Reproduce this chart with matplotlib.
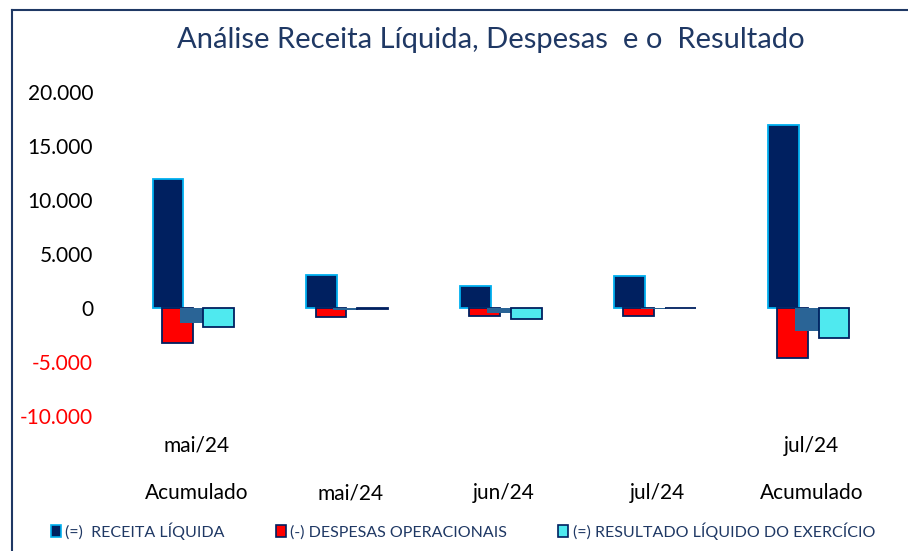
import matplotlib
matplotlib.use("Agg")
import matplotlib.pyplot as plt
import matplotlib.transforms as mtransforms
from matplotlib.patches import Patch
from matplotlib.lines import Line2D
import numpy as np

# data
cat_top = ["mai/24", "", "", "", "jul/24"]
cat_bottom = ["Acumulado", "mai/24", "jun/24", "jul/24", "Acumulado"]
receita = [11950, 3050, 2040, 2960, 16950]
despesas = [-3240, -830, -740, -740, -4630]
outros = [-1390, -170, -460, -110, -2130]
resultado = [-1760, -50, -1000, -30, -2780]

legend_labels = ["(=)  RECEITA LÍQUIDA", "(-) DESPESAS OPERACIONAIS",
                 "(=) RESULTADO LÍQUIDO DO EXERCÍCIO"]

plt.rcParams['font.family'] = ['Lato', 'DejaVu Sans']

navy = '#002060'
red = '#FF0000'
midblue = '#2A6496'
cyan = '#4FE9EF'
lightblue = '#00B0F0'
dark_txt = '#1F3864'

fig = plt.figure(figsize=(9.08, 5.51), dpi=100)
ax = fig.add_axes([118 / 908, 1 - 416 / 551, 769 / 908, 324 / 551])

x = np.arange(len(receita))
ax.bar(x - 0.175, receita, width=0.2, color=navy, edgecolor=lightblue, linewidth=1.3, zorder=2)
ax.bar(x - 0.115, despesas, width=0.2, color=red, edgecolor=navy, linewidth=1.3, zorder=3)
ax.bar(x - 0.02, outros, width=0.16, color=midblue, linewidth=0, zorder=4)
ax.bar(x + 0.155, resultado, width=0.2, color=cyan, edgecolor=navy, linewidth=1.3, zorder=5)

ax.set_xlim(-0.5, 4.5)
ax.set_ylim(-10000, 20000)
ax.set_yticks(np.arange(-10000, 20001, 5000))
ax.set_yticklabels([f"{v:,}".replace(',', '.') for v in range(-10000, 20001, 5000)])
for lbl, v in zip(ax.get_yticklabels(), range(-10000, 20001, 5000)):
    lbl.set_color(red if v < 0 else 'black')
ax.tick_params(axis='y', length=0, pad=18, labelsize=15)
ax.set_xticks([])
for s in ax.spines.values():
    s.set_visible(False)

# two-level category labels
trans = mtransforms.blended_transform_factory(ax.transData, fig.transFigure)
for i in range(len(cat_bottom)):
    if cat_top[i]:
        ax.text(i + 0.01, 1 - 446 / 551, cat_top[i], transform=trans, ha='center', va='center', fontsize=15)
    ax.text(i + 0.01, 1 - 493 / 551, cat_bottom[i], transform=trans, ha='center', va='center', fontsize=15)

fig.text(491 / 908, 1 - 40 / 551, "Análise Receita Líquida, Despesas  e o  Resultado",
         ha='center', va='center', fontsize=21, color=dark_txt)

handles = [Patch(facecolor=navy, edgecolor=lightblue, linewidth=1.2),
           Patch(facecolor=red, edgecolor=navy, linewidth=1.2),
           Patch(facecolor=cyan, edgecolor=navy, linewidth=1.2)]
leg = fig.legend(handles, legend_labels, loc='center', bbox_to_anchor=(463 / 908, 1 - 531 / 551),
                 ncol=3, frameon=False, fontsize=11.5, handlelength=0.6, handleheight=0.8,
                 handletextpad=0.3, columnspacing=3.2)
for t in leg.get_texts():
    t.set_color(dark_txt)

# chart border (left and top visible)
fig.add_artist(Line2D([11.5 / 908, 11.5 / 908], [0, 1 - 10 / 551], color=dark_txt, linewidth=1.5))
fig.add_artist(Line2D([11.5 / 908, 1], [1 - 10 / 551, 1 - 10 / 551], color=dark_txt, linewidth=1.5))

fig.savefig('out.png', dpi=100)
